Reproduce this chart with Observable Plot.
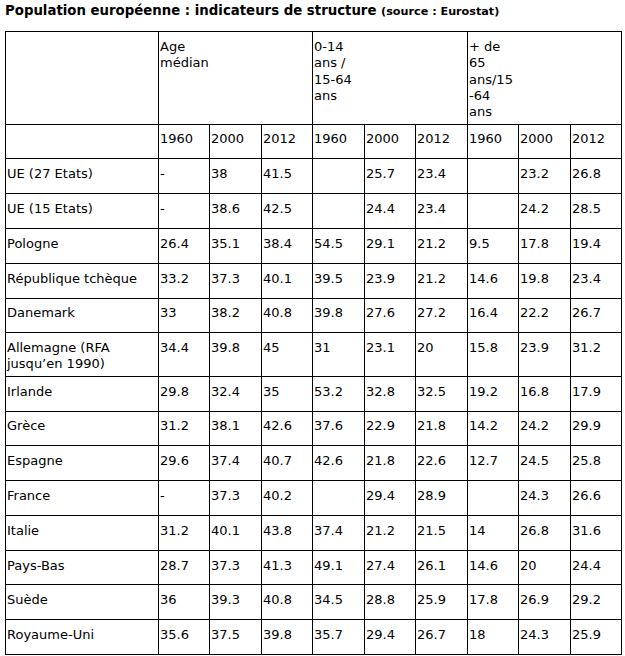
<!DOCTYPE html>
<html><head><meta charset="utf-8">
<script src="https://cdn.jsdelivr.net/npm/d3@7"></script>
<script src="https://cdn.jsdelivr.net/npm/@observablehq/plot@0.6"></script>
<style>
body{margin:0;background:#fff;}
#title{font-family:"DejaVu Sans",Verdana,sans-serif;font-weight:bold;font-size:13.3px;line-height:21px;height:24px;padding-left:5px;color:#000;white-space:nowrap;overflow:visible;}
#title small{font-size:11.2px;}
#chart svg{display:block;}
</style></head><body>
<div id="title">Population européenne : indicateurs de structure <small>(source : Eurostat)</small></div>
<div id="chart"></div>
<script>
// ---- data ----
const countries = ["UE (27 Etats)", "UE (15 Etats)", "Pologne", "République tchèque", "Danemark",
  "Allemagne (RFA\njusqu’en 1990)", "Irlande", "Grèce", "Espagne", "France", "Italie", "Pays-Bas", "Suède", "Royaume-Uni"];
const indicators = ["Age\nmédian", "0-14\nans /\n15-64\nans", "+ de\n65\nans/15\n-64\nans"];
const years = ["1960", "2000", "2012"];
const medianAge1960 = ["-", "-", 26.4, 33.2, 33, 34.4, 29.8, 31.2, 29.6, "-", 31.2, 28.7, 36, 35.6];
const medianAge2000 = [38, 38.6, 35.1, 37.3, 38.2, 39.8, 32.4, 38.1, 37.4, 37.3, 40.1, 37.3, 39.3, 37.5];
const medianAge2012 = [41.5, 42.5, 38.4, 40.1, 40.8, 45, 35, 42.6, 40.7, 40.2, 43.8, 41.3, 40.8, 39.8];
const young1960 = [null, null, 54.5, 39.5, 39.8, 31, 53.2, 37.6, 42.6, null, 37.4, 49.1, 34.5, 35.7];
const young2000 = [25.7, 24.4, 29.1, 23.9, 27.6, 23.1, 32.8, 22.9, 21.8, 29.4, 21.2, 27.4, 28.8, 29.4];
const young2012 = [23.4, 23.4, 21.2, 21.2, 27.2, 20, 32.5, 21.8, 22.6, 28.9, 21.5, 26.1, 25.9, 26.7];
const old1960 = [null, null, 9.5, 14.6, 16.4, 15.8, 19.2, 14.2, 12.7, null, 14, 14.6, 17.8, 18];
const old2000 = [23.2, 24.2, 17.8, 19.8, 22.2, 23.9, 16.8, 24.2, 24.5, 24.3, 26.8, 20, 26.9, 24.3];
const old2012 = [26.8, 28.5, 19.4, 23.4, 26.7, 31.2, 17.9, 29.9, 25.8, 26.6, 31.6, 24.4, 29.2, 25.9];

// ---- layout ----
const series = [[medianAge1960, medianAge2000, medianAge2012], [young1960, young2000, young2012], [old1960, old2000, old2012]];
const LABEL_UNITS = 2.97;
const colEdges = [0];
for (let k = 0; k <= 9; k++) colEdges.push(LABEL_UNITS + k);
const lineH = 16.3, minRowH = 34.8, padV = 10.8, baseOff = 18.8;
const rowH = n => Math.max(minRowH, n * lineH + padV);

const tableRows = [];
tableRows.push([{c0: 0, c1: 1, text: ""}, ...indicators.map((t, i) => ({c0: 1 + 3 * i, c1: 4 + 3 * i, text: t}))]);
tableRows.push([{c0: 0, c1: 1, text: ""}, ...series.flatMap((s, i) => years.map((y, j) => ({c0: 1 + 3 * i + j, c1: 2 + 3 * i + j, text: y})))]);
countries.forEach((c, r) => {
  const cells = [{c0: 0, c1: 1, text: c}];
  series.forEach((s, i) => s.forEach((arr, j) => cells.push({c0: 1 + 3 * i + j, c1: 2 + 3 * i + j, text: arr[r] == null ? "" : String(arr[r])})));
  tableRows.push(cells);
});

const cellRects = [], textLines = [];
let yTop = 0;
for (const cells of tableRows) {
  const n = d3.max(cells, d => d.text.split("\n").length);
  const h = rowH(n);
  for (const d of cells) {
    cellRects.push({x1: colEdges[d.c0], x2: colEdges[d.c1], y1: yTop, y2: yTop + h});
    if (d.text) d.text.split("\n").forEach((t, i) => textLines.push({x: colEdges[d.c0], y: yTop + baseOff + i * lineH, text: t}));
  }
  yTop += h;
}
const totalH = yTop;
const FONT = "'DejaVu Sans', Verdana, sans-serif";

const chart = Plot.plot({
  width: 625,
  height: 632,
  margin: 0,
  x: {type: "linear", domain: [0, colEdges[colEdges.length - 1]], range: [5, 621], round: true, axis: null},
  y: {type: "linear", domain: [0, totalH], range: [7.2, 7.2 + totalH], round: true, axis: null},
  style: {fontFamily: FONT, fontSize: "13px", color: "#000", background: "#fff"},
  marks: [
    Plot.rect(cellRects, {x1: "x1", x2: "x2", y1: "y1", y2: "y2", fill: "none", stroke: "#000", strokeWidth: 1, dx: 0.5, dy: 0.5, shapeRendering: "crispEdges"}),
    Plot.text(textLines, {x: "x", y: "y", text: "text", textAnchor: "start", lineAnchor: "bottom", dx: 1.5, fontSize: 13, fontFamily: FONT, fill: "#000"})
  ]
});
document.getElementById("chart").appendChild(chart);
</script>
</body></html>
